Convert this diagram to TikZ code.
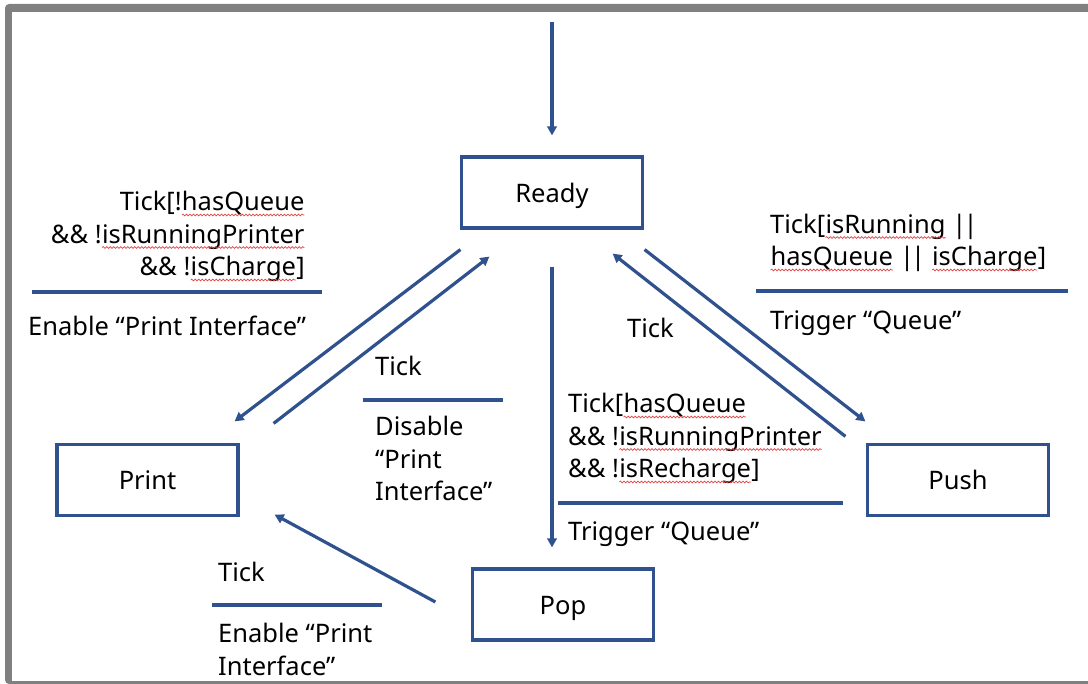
\documentclass[tikz,border=0pt]{standalone}
\usepackage{fontspec}
\setmainfont{Noto Sans}
\usetikzlibrary{arrows.meta,positioning,decorations.pathmorphing}

\definecolor{boxblue}{RGB}{47,82,143}
\definecolor{framegray}{RGB}{128,128,128}
\definecolor{squigred}{RGB}{225,70,70}

% spell-check squiggle under a word
\newcommand\sq[1]{\tikz[baseline=(w.base)]{\node[inner sep=0pt, outer sep=0pt, anchor=base, draw=none] (w) at (0,0) {#1};
  \draw[squigred, line width=0.7pt, decorate, decoration={snake, amplitude=0.9pt, segment length=3.5pt}]
    ([yshift=-4pt]w.base west) -- ([yshift=-4pt]w.base east);}}
\newcommand\lblfont{\fontsize{25.5}{32.5}\selectfont}
\newcommand\orbars{|\kern-3pt|}

\begin{document}
\begin{tikzpicture}[x=1pt,y=-1pt,
    state/.style={draw=boxblue, line width=3.2pt, minimum width=181pt, minimum height=71pt, inner sep=0pt,
      text height=24pt, text depth=4pt, font=\lblfont},
    trans/.style={draw=boxblue, line width=3.2pt, -{Triangle[length=9pt,width=9.5pt]}},
    sepline/.style={draw=boxblue, line width=3.2pt},
    lbl/.style={inner sep=0pt, font=\lblfont}]
  \useasboundingbox (0,0) rectangle (1088,684);
  \fill[framegray, rounded corners=4pt] (5,4) rectangle (1100,684);
  \fill[white] (12,12) rectangle (1088,681);

  \node[state] (ready) at (552,192.5) {Ready};
  \node[state] (print) at (147.5,480) {Print};
  \node[state] (push) at (958,480) {Push};
  \node[state] (pop) at (563,604.5) {Pop};
  \coordinate (init) at (552,22);

  \draw[trans] (init) -- ([shift={(0,-20)}]ready.north);
  \draw[trans] ([shift={(0.5,20)}]ready.south west) -- ([shift={(-5,-21.5)}]print.north east);
  \draw[trans] ([shift={(34,-19.5)}]print.north east) -- ([shift={(29.5,27)}]ready.south west);
  \draw[trans] ([shift={(0,37)}]ready.south) -- ([shift={(-11,-20)}]pop.north);
  \draw[trans] ([shift={(-20.5,-6.5)}]push.north west) -- ([shift={(-31.5,24)}]ready.south east);
  \draw[trans] ([shift={(0.5,20)}]ready.south east) -- ([shift={(-0.5,-21.5)}]push.north west);
  \draw[trans] ([shift={(-35.5,-2.5)}]pop.west) -- ([shift={(35,-2.5)}]print.south east);

  % Ready -> Print
  \node[lbl, anchor=base east, align=right] (guardprint) at (305,276)
    {Tick[!\sq{hasQueue}\\\&\& !\sq{isRunningPrinter}\\\&\& !\sq{isCharge}]};
  \draw[sepline] (32,292) -- (322,292);
  \node[lbl, anchor=base west] (actprint) at (28,336) {Enable “Print Interface”};

  % Ready -> Push
  \node[lbl, anchor=base west, align=left] (guardpush) at (770,266)
    {Tick[\sq{isRunning} \orbars\\\sq{hasQueue} \orbars{} \sq{isCharge}]};
  \draw[sepline] (756,291) -- (1068,291);
  \node[lbl, anchor=base west] (actpush) at (770,330) {Trigger “Queue”};

  % Push -> Ready
  \node[lbl, anchor=base west] (tickpush) at (627,338) {Tick};

  % Print -> Ready
  \node[lbl, anchor=base west] (tickprint) at (375,376) {Tick};
  \draw[sepline] (363,400) -- (503,400);
  \node[lbl, anchor=base west, align=left] (disprint) at (375,501) {Disable\\“Print\\Interface”};

  % Ready -> Pop
  \node[lbl, anchor=base west, align=left] (guardpop) at (568,478)
    {Tick[\sq{hasQueue}\\\&\& !\sq{isRunningPrinter}\\\&\& !\sq{isRecharge}]};
  \draw[sepline] (558,503) -- (843,503);
  \node[lbl, anchor=base west] (actpop) at (568,541) {Trigger “Queue”};

  % Pop -> Print
  \node[lbl, anchor=base west] (tickpop) at (218,582) {Tick};
  \draw[sepline] (212,605) -- (382,605);
  \node[lbl, anchor=base west, align=left] (enprint) at (218,675) {Enable “Print\\Interface”};
\end{tikzpicture}
\end{document}
